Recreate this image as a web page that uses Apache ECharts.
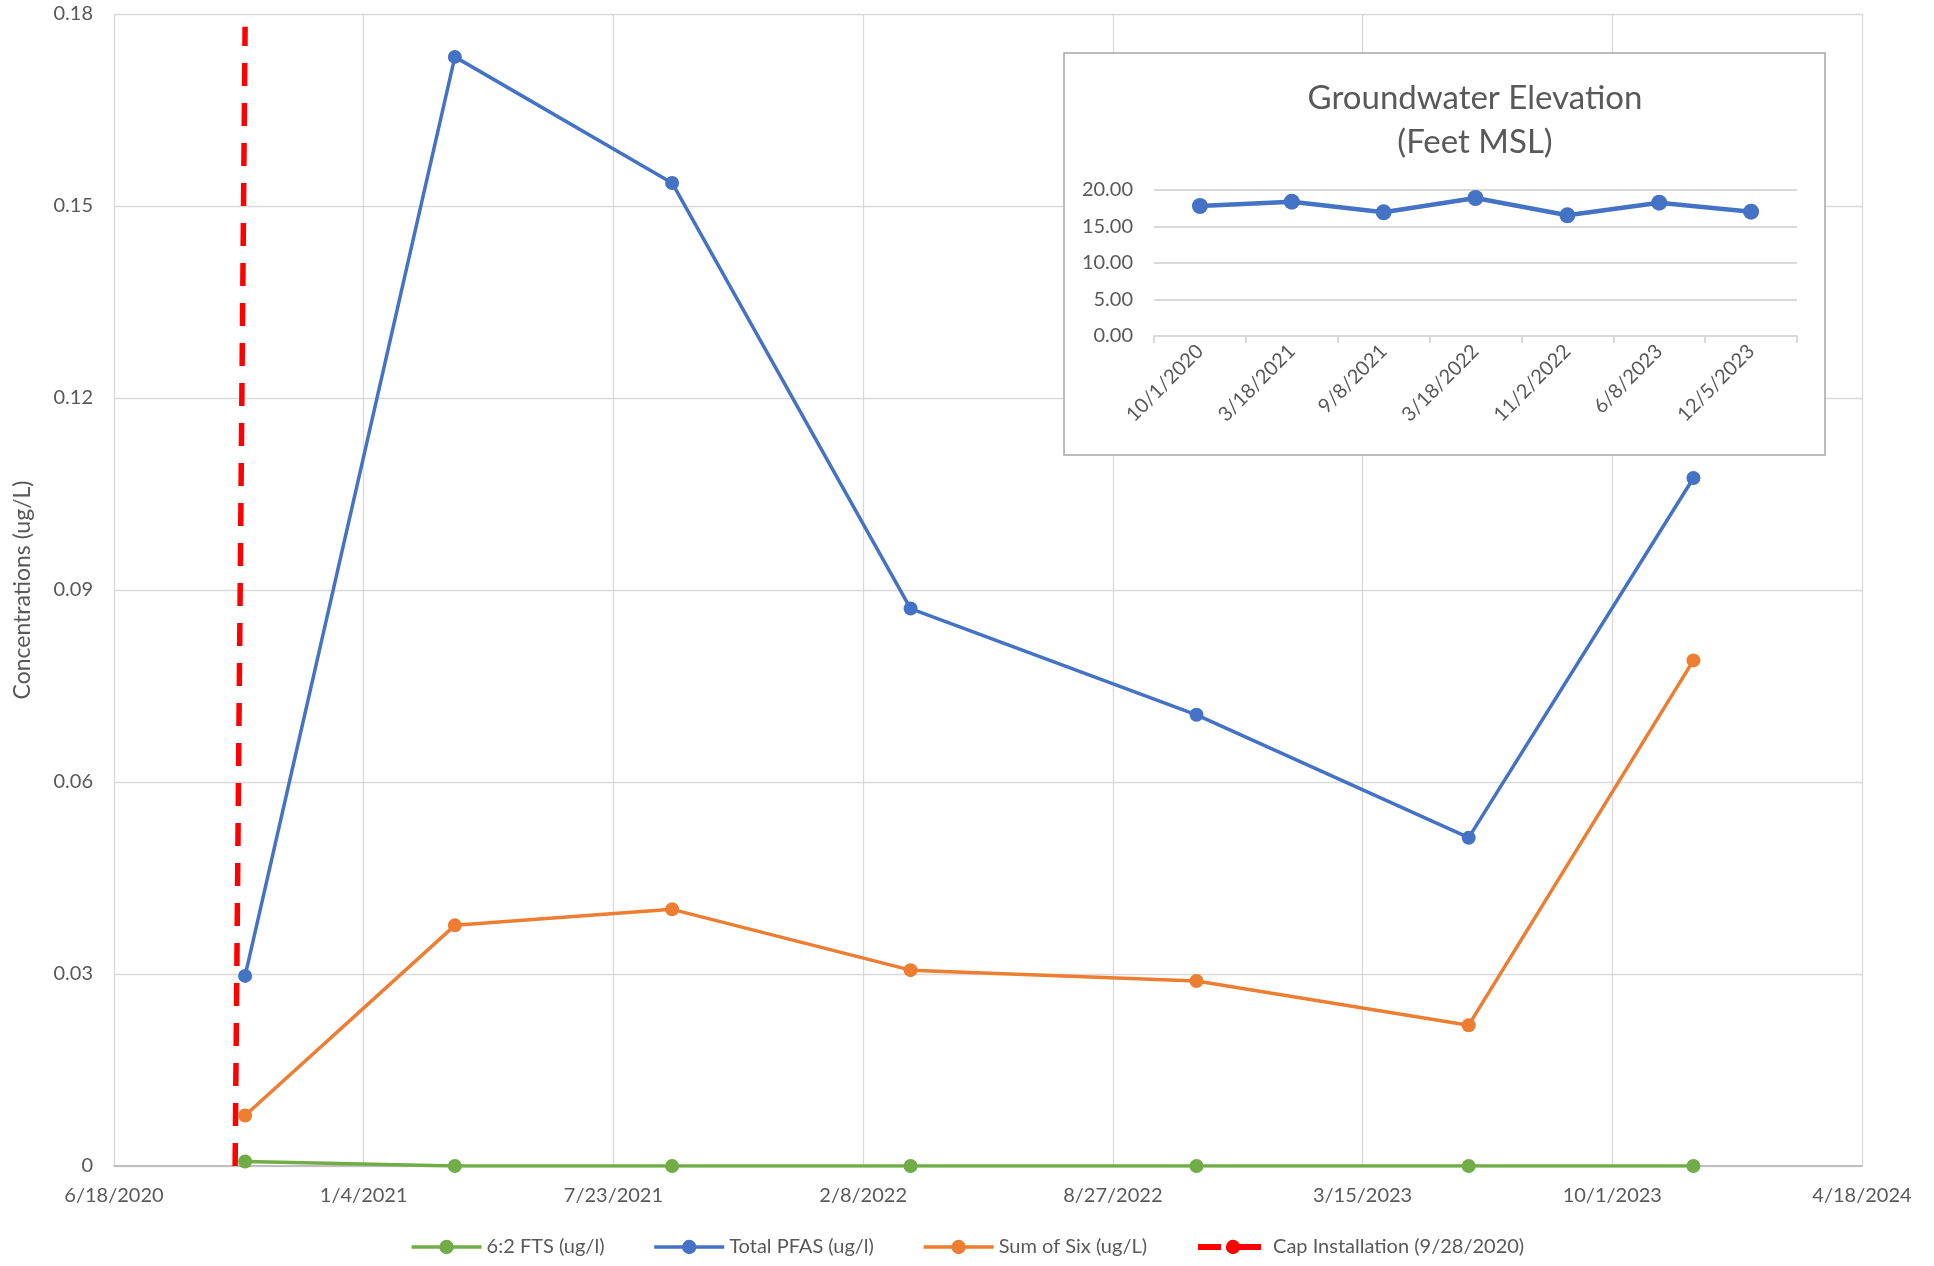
<!DOCTYPE html>
<html>
<head>
<meta charset="utf-8">
<title>PFAS Concentrations</title>
<script src="https://cdn.jsdelivr.net/npm/echarts@6/dist/echarts.min.js"></script>
<style>
  html, body { margin: 0; padding: 0; background: #fff; }
  #chart { width: 1934px; height: 1266px; }
</style>
</head>
<body>
<div id="chart"></div>
<script>
  // sampling dates and concentrations (ug/L)
  var sampleDates = ['10/1/2020', '3/18/2021', '9/8/2021', '3/18/2022', '11/2/2022', '6/8/2023', '12/5/2023'];
  var fts62 = [0.0007, 0, 0, 0, 0, 0, 0];
  var totalPfas = [0.0297, 0.1733, 0.1536, 0.0871, 0.0705, 0.0513, 0.1075];
  var sumOfSix = [0.0079, 0.0376, 0.0401, 0.0306, 0.0289, 0.0220, 0.0790];

  // cap installation marker line
  var capDates = ['9/23/2020', '10/1/2020'];
  var capValues = [0, 0.178];

  // inset: groundwater elevation (feet MSL)
  var gwDates = ['10/1/2020', '3/18/2021', '9/8/2021', '3/18/2022', '11/2/2022', '6/8/2023', '12/5/2023'];
  var gwElevation = [17.81, 18.40, 16.94, 18.90, 16.53, 18.26, 17.03];

  // x axis: 6/18/2020 .. 4/18/2024 every 200 days
  var xStart = '6/18/2020';
  var xStepDays = 200;
  var xSteps = 7;

  var DAY = 86400000;
  function parseDate(s) {
    var p = s.split('/');
    return Date.UTC(+p[2], +p[0] - 1, +p[1]);
  }
  var startMs = parseDate(xStart);
  function toDay(s) {
    return Math.round((parseDate(s) - startMs) / DAY);
  }
  function dayLabel(d) {
    var dt = new Date(startMs + d * DAY);
    return (dt.getUTCMonth() + 1) + '/' + dt.getUTCDate() + '/' + dt.getUTCFullYear();
  }
  function pairs(dates, vals) {
    var out = [];
    for (var i = 0; i < dates.length; i++) out.push([toDay(dates[i]), vals[i]]);
    return out;
  }

  var font = 'Lato, "Open Sans", sans-serif';
  var txt = '#595959';
  var grid = '#d9d9d9';

  var chart = echarts.init(document.getElementById('chart'));
  chart.setOption({
    animation: false,
    backgroundColor: '#fff',
    textStyle: { fontFamily: font },
    title: [{
      text: 'Groundwater Elevation\n(Feet MSL)',
      left: 1470,
      top: 71,
      textAlign: 'center',
      textStyle: { fontFamily: font, fontSize: 33, fontWeight: 'normal', color: txt, lineHeight: 44 }
    }],
    legend: {
      data: [
        { name: '6:2 FTS (ug/l)' },
        { name: 'Total PFAS (ug/l)' },
        { name: 'Sum of Six (ug/L)' },
        { name: 'Cap Installation (9/28/2020)', lineStyle: { width: 6 } }
      ],
      left: 'center',
      top: 1232,
      itemWidth: 70,
      itemHeight: 18,
      itemGap: 48,
      lineStyle: { width: 3.5 },
      textStyle: { fontFamily: font, fontSize: 20, color: txt }
    },
    graphic: [{
      type: 'rect',
      z: 1,
      shape: { x: 1064, y: 53, width: 761, height: 402 },
      style: { fill: '#fff', stroke: '#a6a6a6', lineWidth: 1.5 }
    }],
    grid: [
      { left: 114, right: 72, top: 14, bottom: 100 },
      { left: 1154, right: 137, top: 190, bottom: 930 }
    ],
    xAxis: [{
      type: 'value',
      gridIndex: 0,
      min: 0,
      max: xStepDays * xSteps,
      interval: xStepDays,
      axisLine: { lineStyle: { color: '#bfbfbf', width: 2 } },
      axisTick: { show: false },
      axisLabel: { formatter: dayLabel, fontSize: 20, color: txt, margin: 20, fontFamily: font },
      splitLine: { show: true, lineStyle: { color: grid, width: 1.3 } }
    }, {
      type: 'category',
      gridIndex: 1,
      z: 3,
      data: gwDates,
      boundaryGap: true,
      axisLine: { lineStyle: { color: grid, width: 2 } },
      axisTick: { show: true, length: 7, lineStyle: { color: grid, width: 2 } },
      axisLabel: { rotate: 45, fontSize: 20, color: txt, margin: 12, fontFamily: font },
      splitLine: { show: false }
    }],
    yAxis: [{
      type: 'value',
      gridIndex: 0,
      min: 0,
      max: 0.18,
      interval: 0.03,
      name: 'Concentrations (ug/L)',
      nameLocation: 'middle',
      nameGap: 80,
      nameTextStyle: { fontSize: 23, color: txt, fontFamily: font },
      axisLine: { show: false },
      axisTick: { show: false },
      axisLabel: { fontSize: 20, color: txt, margin: 21, fontFamily: font },
      splitLine: { lineStyle: { color: grid, width: 1.3 } }
    }, {
      type: 'value',
      gridIndex: 1,
      z: 3,
      min: 0,
      max: 20,
      interval: 5,
      axisLine: { show: false },
      axisTick: { show: false },
      axisLabel: {
        fontSize: 20, color: txt, margin: 21, fontFamily: font,
        formatter: function (v) { return v.toFixed(2); }
      },
      splitLine: { lineStyle: { color: grid, width: 2 } }
    }],
    series: [
      {
        name: '6:2 FTS (ug/l)',
        type: 'line',
        data: pairs(sampleDates, fts62),
        symbol: 'circle',
        symbolSize: 14,
        itemStyle: { color: '#70ad47' },
        lineStyle: { color: '#70ad47', width: 3.5 }
      },
      {
        name: 'Total PFAS (ug/l)',
        type: 'line',
        data: pairs(sampleDates, totalPfas),
        symbol: 'circle',
        symbolSize: 14,
        itemStyle: { color: '#4472c4' },
        lineStyle: { color: '#4472c4', width: 3.5 }
      },
      {
        name: 'Sum of Six (ug/L)',
        type: 'line',
        data: pairs(sampleDates, sumOfSix),
        symbol: 'circle',
        symbolSize: 14,
        itemStyle: { color: '#ed7d31' },
        lineStyle: { color: '#ed7d31', width: 3.5 }
      },
      {
        name: 'Cap Installation (9/28/2020)',
        type: 'line',
        data: pairs(capDates, capValues),
        symbol: 'none',
        itemStyle: { color: '#ff0000' },
        lineStyle: { color: '#ff0000', width: 5.5, type: [23, 17] }
      },
      {
        name: 'Groundwater Elevation',
        type: 'line',
        xAxisIndex: 1,
        yAxisIndex: 1,
        z: 10,
        data: gwElevation,
        symbol: 'circle',
        symbolSize: 16,
        itemStyle: { color: '#4472c4' },
        lineStyle: { color: '#4472c4', width: 4.5 }
      }
    ]
  });
</script>
</body>
</html>
